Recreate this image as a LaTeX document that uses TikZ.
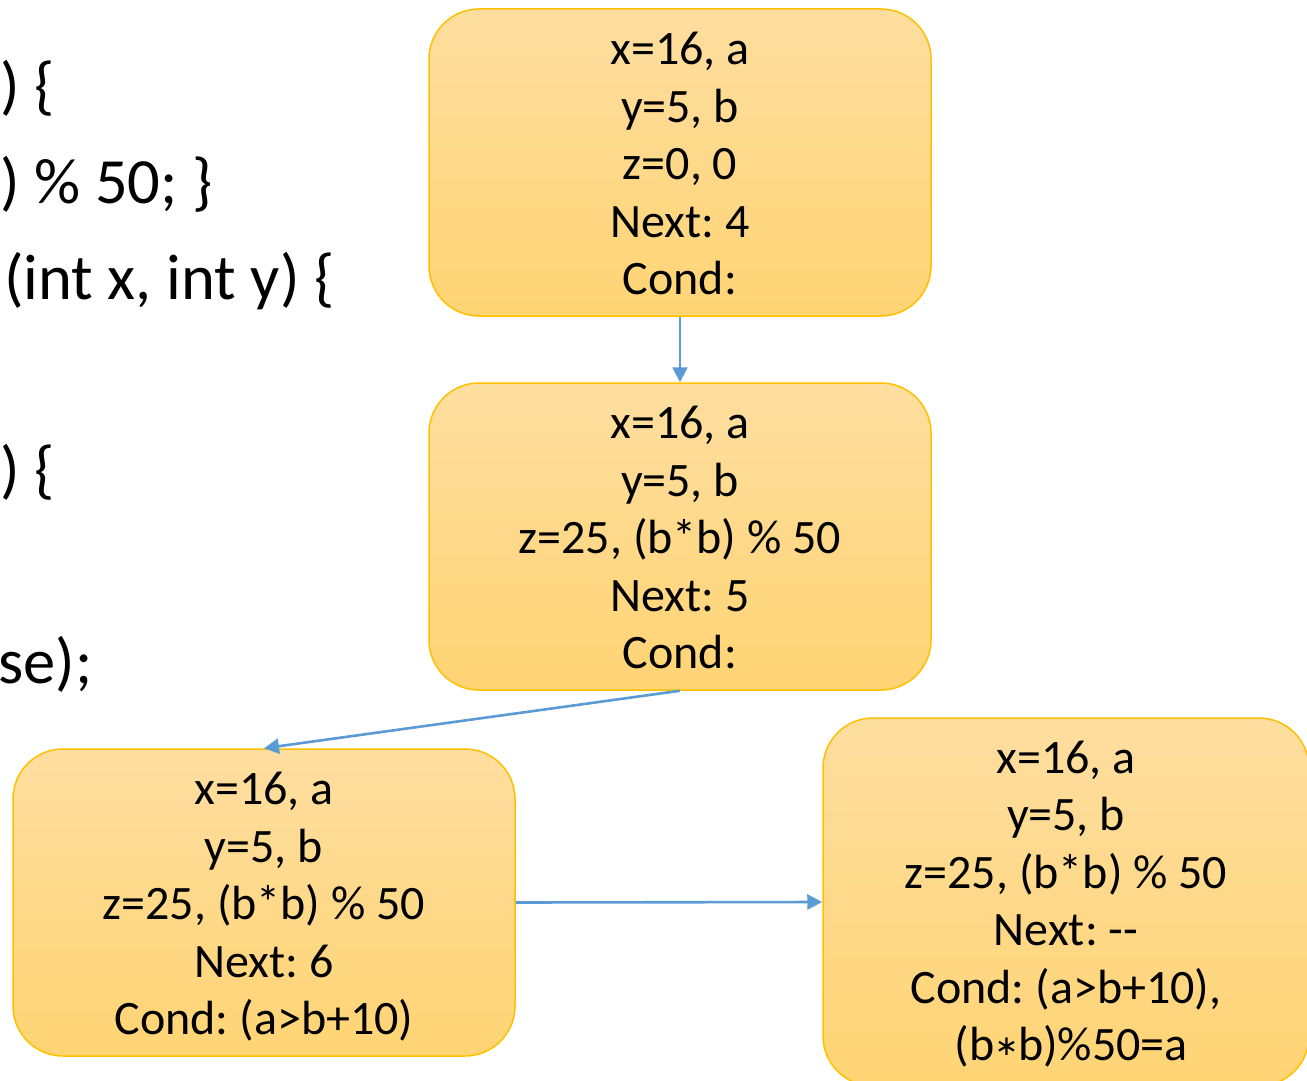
\documentclass[tikz,border=0pt]{standalone}
\usepackage{fontspec}
\setmainfont{Carlito}
\newfontfamily\symfont{DejaVu Sans}
\usetikzlibrary{arrows.meta}
\definecolor{boxtop}{RGB}{254,222,160}
\definecolor{boxbot}{RGB}{255,212,116}
\definecolor{boxline}{RGB}{255,192,0}
\definecolor{arrowblue}{RGB}{91,155,213}
\frenchspacing
\newcommand{\smallast}{\raisebox{5pt}{\fontsize{28}{28}\symfont ∗}}
\begin{document}
\begin{tikzpicture}[x=1pt,y=-1pt,
  statebox/.style={draw=boxline, line width=1.5pt, rounded corners=50pt,
    top color=boxtop, bottom color=boxbot,
    minimum width=502pt, minimum height=307pt, align=center,
    font=\fontsize{48}{57.5}\selectfont, text depth=0pt, inner sep=0pt},
  flow/.style={draw=arrowblue, line width=2.6pt, -{Triangle[length=15pt,width=15pt]}},
  codetext/.style={anchor=base west, inner sep=0pt, font=\fontsize{64.5}{76}\selectfont}]
\useasboundingbox (0,0) rectangle (1307,1081);
\fill[white] (0,0) rectangle (1307,1081);

% code fragments on the left
\node[codetext] (c1) at (0,107) {) \{};
\node[codetext] (c2) at (0,203) {) \% 50; \}};
\node[codetext] (c3) at (4,299) {(int x, int y) \{};
\node[codetext] (c4) at (0,491) {) \{};
\node[codetext] (c5) at (-2,683) {se);};

% state boxes
\node[statebox, text height=264pt] (s1) at (680,162.5)
  {x=16, a\\y=5, b\\z=0, 0\\Next: 4\\Cond:};
\node[statebox, text height=264pt] (s2) at (680,536.5)
  {x=16, a\\y=5, b\\z=25, (b*b) \% 50\\Next: 5\\Cond:};
\node[statebox, text height=264pt] (s3) at (264,902.5)
  {x=16, a\\y=5, b\\z=25, (b*b) \% 50\\Next: 6\\Cond: (a>b+10)};
\node[statebox, text height=317.5pt, minimum width=486pt, minimum height=368pt] (s4) at (1066,902)
  {x=16, a\\y=5, b\\z=25, (b*b) \% 50\\Next: -{}-\\Cond: (a>b+10),\\\mbox{}\ (b\smallast b)\%50=a};

% connectors
\draw[flow] (s1.south) -- (s2.north);
\draw[flow] (s2.south) -- (s3.north);
\draw[flow] (s3.east) -- (s4.west);
\end{tikzpicture}
\end{document}
